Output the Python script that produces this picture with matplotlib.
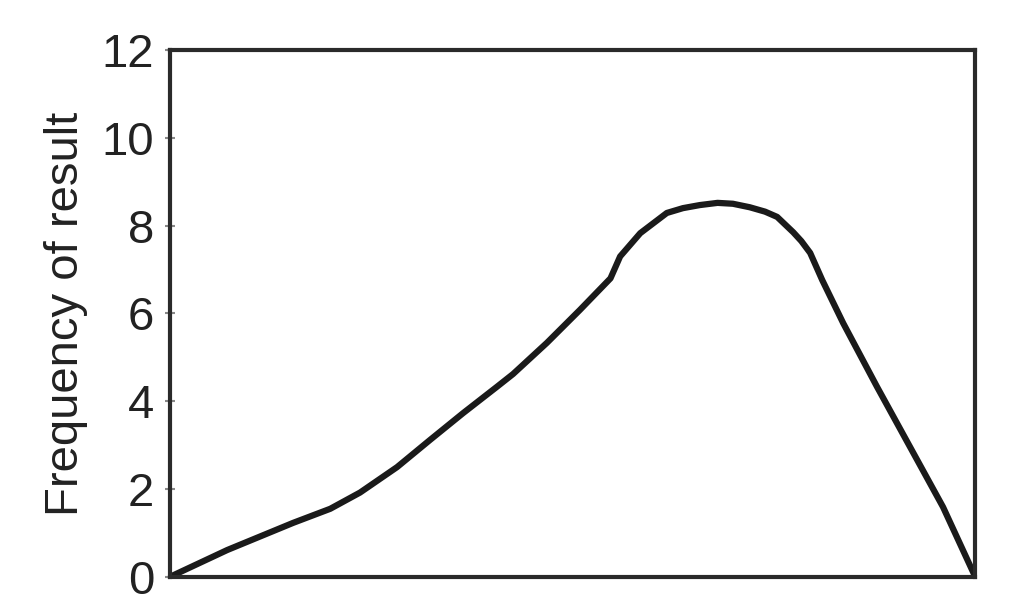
import matplotlib.pyplot as plt

plt.rcParams['font.family'] = ['Liberation Sans', 'DejaVu Sans']

# curve (x is position across the box, 0-100)
x_pos = [0, 7.1, 15.3, 19.9, 23.6, 28.2, 32.3, 36.4, 40.6, 42.6, 46.8, 50.9,
         54.7, 55.9, 58.4, 61.7, 63.7, 65.8, 68.0, 69.9, 72.0, 73.9, 75.4,
         77.4, 78.4, 79.5, 81.0, 83.6, 87.8, 91.9, 96.0, 100]
freq = [0, 0.61, 1.23, 1.55, 1.92, 2.5, 3.12, 3.73, 4.33, 4.62, 5.33, 6.08,
        6.8, 7.3, 7.83, 8.29, 8.4, 8.47, 8.52, 8.5, 8.42, 8.32, 8.2,
        7.85, 7.65, 7.38, 6.76, 5.78, 4.33, 2.96, 1.59, 0]
y_ticks = [0, 2, 4, 6, 8, 10, 12]

fig = plt.figure(figsize=(10.18, 6.04), dpi=100)
ax = fig.add_axes([0.167, 0.045, 0.791, 0.872])

ax.plot(x_pos, freq, color='#1a1a1a', linewidth=4.5,
        solid_joinstyle='round', solid_capstyle='round')

ax.set_xlim(0, 100)
ax.set_ylim(0, 12)
ax.set_xticks([])
ax.set_yticks(y_ticks)
ax.tick_params(axis='y', direction='inout', length=7, width=1.5,
               color='#888888', labelsize=34, pad=8, labelcolor='#222222')

for s in ax.spines.values():
    s.set_linewidth(3)
    s.set_color('#2a2a2a')

ax.set_ylabel('Frequency of result', fontsize=34, color='#222222', labelpad=10)

fig.savefig('out.png', dpi=100)
